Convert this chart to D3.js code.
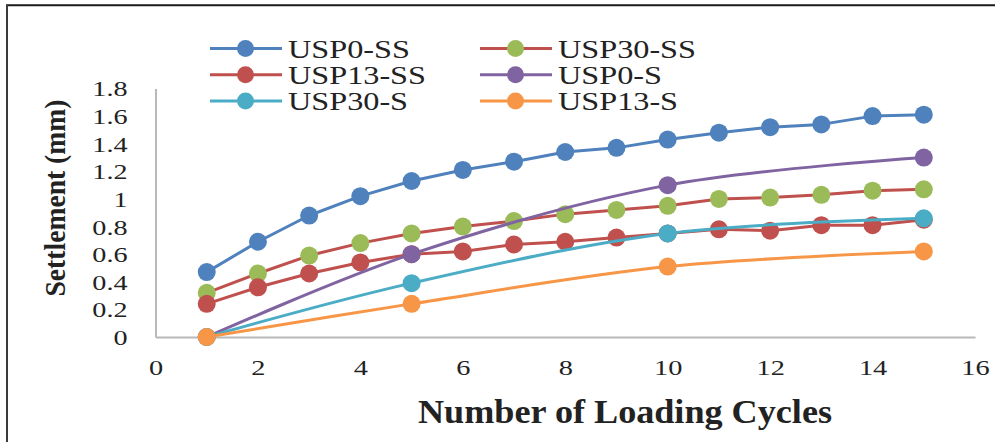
<!DOCTYPE html>
<html>
<head>
<meta charset="utf-8">
<script src="https://cdn.jsdelivr.net/npm/d3@7"></script>
<style>
  html, body { margin: 0; padding: 0; background: #fff; }
  svg { display: block; }
  text { font-family: "Liberation Serif", "Times New Roman", serif; fill: #222; }
</style>
</head>
<body>
<svg id="chart" width="995" height="442"></svg>
<script>
// ---------- data ----------
const cyclesSS = [1, 2, 3, 4, 5, 6, 7, 8, 9, 10, 11, 12, 13, 14, 15];
const cyclesS = [1, 5, 10, 15];
const usp0SS  = [0.47, 0.69, 0.88, 1.02, 1.13, 1.21, 1.27, 1.34, 1.37, 1.43, 1.48, 1.52, 1.54, 1.60, 1.61];
const usp30SS = [0.32, 0.46, 0.59, 0.68, 0.75, 0.80, 0.84, 0.89, 0.92, 0.95, 1.00, 1.01, 1.03, 1.06, 1.07];
const usp13SS = [0.24, 0.36, 0.46, 0.54, 0.60, 0.62, 0.67, 0.69, 0.72, 0.75, 0.78, 0.77, 0.81, 0.81, 0.85];
const usp0S   = [0, 0.60, 1.10, 1.30];
const usp30S  = [0, 0.39, 0.75, 0.86];
const usp13S  = [0, 0.24, 0.51, 0.62];
const seriesNames = ["USP0-SS", "USP30-SS", "USP13-SS", "USP0-S", "USP30-S", "USP13-S"];
const xTickValues = [0, 2, 4, 6, 8, 10, 12, 14, 16];
const yTickValues = [0, 0.2, 0.4, 0.6, 0.8, 1, 1.2, 1.4, 1.6, 1.8];
const yTickLabels = ["0", "0.2", "0.4", "0.6", "0.8", "1", "1.2", "1.4", "1.6", "1.8"];
const xTitle = "Number of Loading Cycles";
const yTitle = "Settlement (mm)";

const series = [
  { name: seriesNames[0], xs: cyclesSS, ys: usp0SS,  line: "#4F81BD", marker: "#4F81BD", smooth: false },
  { name: seriesNames[1], xs: cyclesSS, ys: usp30SS, line: "#C0504D", marker: "#9BBB59", smooth: false },
  { name: seriesNames[2], xs: cyclesSS, ys: usp13SS, line: "#C0504D", marker: "#C0504D", smooth: false },
  { name: seriesNames[3], xs: cyclesS,  ys: usp0S,   line: "#8064A2", marker: "#8064A2", smooth: true },
  { name: seriesNames[4], xs: cyclesS,  ys: usp30S,  line: "#4BACC6", marker: "#4BACC6", smooth: true },
  { name: seriesNames[5], xs: cyclesS,  ys: usp13S,  line: "#F79646", marker: "#F79646", smooth: true }
];

// ---------- layout ----------
const svg = d3.select("#chart");
const x = d3.scaleLinear().domain([0, 16]).range([155.5, 975]);
const y = d3.scaleLinear().domain([0, 1.8]).range([337, 88.5]);

function stretch(sel, k) {
  sel.each(function () {
    const w = this.getComputedTextLength();
    d3.select(this).attr("textLength", w * k).attr("lengthAdjust", "spacingAndGlyphs");
  });
}

// outer frame (top + left edges)
svg.append("line").attr("x1", 6).attr("x2", 995).attr("y1", 5.3).attr("y2", 5.3)
  .attr("stroke", "#1a1a1a").attr("stroke-width", 2);
svg.append("line").attr("x1", 7).attr("x2", 7).attr("y1", 5).attr("y2", 442)
  .attr("stroke", "#3a3a3a").attr("stroke-width", 2);

// axes
const yAxis = d3.axisLeft(y).tickValues(yTickValues)
  .tickFormat((d, i) => yTickLabels[i]).tickSize(0).tickPadding(28);
const gy = svg.append("g").attr("transform", `translate(${x(0)},0)`).call(yAxis);
gy.select(".domain").attr("stroke", "#b8b8b8").attr("stroke-width", 2);
gy.selectAll("text").attr("font-size", 22).attr("fill", "#222")
  .attr("font-family", "Liberation Serif, serif").attr("dy", "0.34em");
stretch(gy.selectAll("text"), 1.28);

const xAxis = d3.axisBottom(x).tickValues(xTickValues).tickFormat(d3.format("d"))
  .tickSize(0).tickPadding(22);
const gx = svg.append("g").attr("transform", `translate(0,${y(0)})`).call(xAxis);
gx.select(".domain").attr("stroke", "#b8b8b8").attr("stroke-width", 2);
gx.selectAll("text").attr("font-size", 21).attr("fill", "#222")
  .attr("font-family", "Liberation Serif, serif").attr("dy", "0.75em");
stretch(gx.selectAll("text"), 1.35);

// axis titles
const xt = svg.append("text").attr("x", 625).attr("y", 423).attr("text-anchor", "middle")
  .attr("font-size", 33).attr("font-weight", "bold").text(xTitle);
xt.attr("textLength", 414).attr("lengthAdjust", "spacingAndGlyphs");

const yt = svg.append("text").attr("transform", "translate(55,198) rotate(-90)")
  .attr("text-anchor", "middle").attr("dominant-baseline", "central")
  .attr("font-size", 29).attr("font-weight", "bold").text(yTitle);
yt.attr("textLength", 197).attr("lengthAdjust", "spacingAndGlyphs");

// series
const plot = svg.append("g");
series.forEach(s => {
  const pts = s.xs.map((v, i) => [v, s.ys[i]]);
  const line = d3.line().x(d => x(d[0])).y(d => y(d[1]))
    .curve(s.smooth ? d3.curveCatmullRom.alpha(0.5) : d3.curveLinear);
  const g = plot.append("g");
  g.append("path").attr("d", line(pts)).attr("fill", "none")
    .attr("stroke", s.line).attr("stroke-width", 3).attr("stroke-linejoin", "round");
  g.selectAll("circle").data(pts).join("circle")
    .attr("cx", d => x(d[0])).attr("cy", d => y(d[1])).attr("r", 9)
    .attr("fill", s.marker);
});

// legend
const legCols = [210, 480];
const legRows = [48.5, 74.8, 101];
const leg = svg.append("g");
series.forEach((s, i) => {
  const cx = legCols[i % 2], cy = legRows[Math.floor(i / 2)];
  const g = leg.append("g");
  g.append("line").attr("x1", cx).attr("x2", cx + 72).attr("y1", cy).attr("y2", cy)
    .attr("stroke", s.line).attr("stroke-width", 3);
  g.append("circle").attr("cx", cx + 35.5).attr("cy", cy).attr("r", 8.5).attr("fill", s.marker);
  const t = g.append("text").attr("x", cx + 78).attr("y", cy + 9)
    .attr("font-size", 26).attr("fill", "#222").text(s.name);
  stretch(t, 1.24);
});
</script>
</body>
</html>
